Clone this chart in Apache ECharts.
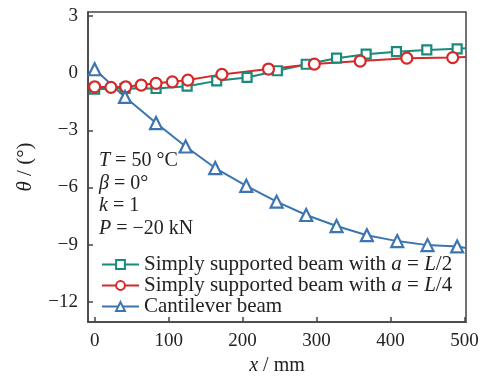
<!DOCTYPE html>
<html>
<head>
<meta charset="utf-8">
<script src="https://cdn.jsdelivr.net/npm/echarts@6/dist/echarts.min.js"></script>
<style>html,body{margin:0;padding:0;background:#fff}#c{width:488px;height:376px}</style>
</head>
<body>
<div id="c"></div>
<script>
var xTicks = [0, 100, 200, 300, 400, 500];
var yTicks = [-12, -9, -6, -3, 0, 3];

var halfX = [0, 41, 83, 125, 165, 206, 247, 286, 327, 367, 408, 449, 490];
var halfY = [-0.85, -0.8, -0.81, -0.69, -0.41, -0.23, 0.12, 0.46, 0.78, 0.99, 1.12, 1.21, 1.27];
var halfEnd = [502, 1.3];

var quarterX = [0, 22, 42, 63, 83, 105, 126, 172, 235, 297, 359, 422, 484];
var quarterY = [-0.72, -0.75, -0.72, -0.63, -0.54, -0.46, -0.37, -0.07, 0.21, 0.47, 0.63, 0.78, 0.81];
var quarterEnd = [502, 0.84];

var cantX = [0, 41, 83, 123, 163, 205, 246, 286, 327, 368, 409, 450, 490];
var cantY = [0.2, -1.25, -2.62, -3.85, -4.98, -5.91, -6.74, -7.44, -8.02, -8.5, -8.81, -9.02, -9.09];
var cantEnd = [502, -9.17];

var names = ['Simply supported beam with a = L/2', 'Simply supported beam with a = L/4', 'Cantilever beam'];

function pts(xs, ys, end) {
  var d = xs.map(function (x, i) { return [x, ys[i]]; });
  d.push({ value: end, symbol: 'none' });
  return d;
}

var FONT = '"Liberation Serif", "Times New Roman", serif';
var chart = echarts.init(document.getElementById('c'), null, { renderer: 'canvas' });

function mk(name, data, color, symbol, size) {
  return {
    name: name, type: 'line', data: data,
    symbol: symbol, symbolSize: size, showAllSymbol: true,
    lineStyle: { color: color, width: 2 },
    itemStyle: { color: '#fff', borderColor: color, borderWidth: 2.2 },
    emphasis: { disabled: true }, animation: false, clip: true, z: 3
  };
}

function rich(sz, lh) {
  return {
    n: { fontFamily: FONT, fontSize: sz, color: '#222', lineHeight: lh },
    i: { fontFamily: FONT, fontSize: sz, color: '#222', fontStyle: 'italic', lineHeight: lh }
  };
}

chart.setOption({
  backgroundColor: '#fff',
  animation: false,
  grid: { left: 88, right: 22, top: 12, bottom: 54, containLabel: false, outerBoundsMode: 'none',
    show: true, borderColor: '#444', borderWidth: 1.5, backgroundColor: 'transparent' },
  xAxis: {
    type: 'value', min: -9, max: 502,
    name: '{i|x}{n| / mm}', nameLocation: 'middle', nameGap: 32,
    nameTextStyle: { fontFamily: FONT, fontSize: 20, color: '#222', rich: rich(20, 22) },
    axisLine: { show: true, onZero: false, lineStyle: { color: '#444', width: 1.5 } },
    axisTick: { show: true, inside: true, length: 5, customValues: xTicks, lineStyle: { color: '#444', width: 1.5 } },
    axisLabel: { customValues: xTicks, fontFamily: FONT, fontSize: 19, color: '#222', margin: 10 },
    splitLine: { show: false }
  },
  yAxis: {
    type: 'value', min: -13.05, max: 3.2,
    name: '{i|θ}{n| / (°)}', nameLocation: 'middle', nameGap: 52, nameRotate: 90,
    nameTextStyle: { fontFamily: FONT, fontSize: 21, color: '#222', rich: rich(21, 22) },
    axisLine: { show: true, onZero: false, lineStyle: { color: '#444', width: 1.5 } },
    axisTick: { show: true, inside: true, length: 5, customValues: yTicks, lineStyle: { color: '#444', width: 1.5 } },
    axisLabel: { customValues: yTicks, fontFamily: FONT, fontSize: 19, color: '#222', margin: 10,
      formatter: function (v) { return v < 0 ? '\u2212' + Math.abs(v) : String(v); } },
    splitLine: { show: false }
  },
  legend: {
    orient: 'vertical', left: 96, top: 249,
    itemWidth: 37, itemHeight: 11, itemGap: 0,
    data: names,
    textStyle: { fontFamily: FONT, fontSize: 21, color: '#222', rich: rich(21, 20.5) },
    formatter: function (n) {
      if (n === names[0]) return '{n|Simply supported beam with }{i|a}{n| = }{i|L}{n|/2}';
      if (n === names[1]) return '{n|Simply supported beam with }{i|a}{n| = }{i|L}{n|/4}';
      return '{n|Cantilever beam}';
    }
  },
  graphic: [{
    type: 'text', left: 99, top: 151,
    style: {
      text: '{i|T}{n| = 50 °C}\n{i|β}{n| = 0°}\n{i|k}{n| = 1}\n{i|P}{n| = \u221220 kN}',
      rich: {
        n: { fontFamily: FONT, fontSize: 20, fill: '#222', lineHeight: 22.5 },
        i: { fontFamily: FONT, fontSize: 20, fill: '#222', fontStyle: 'italic', lineHeight: 22.5 }
      }
    }
  }],
  series: [
    mk(names[0], pts(halfX, halfY, halfEnd), '#1a8a7b', 'rect', 9),
    mk(names[1], pts(quarterX, quarterY, quarterEnd), '#d42a2a', 'circle', 11),
    mk(names[2], pts(cantX, cantY, cantEnd), '#3c75b0', 'triangle', 12)
  ]
});
</script>
</body>
</html>
